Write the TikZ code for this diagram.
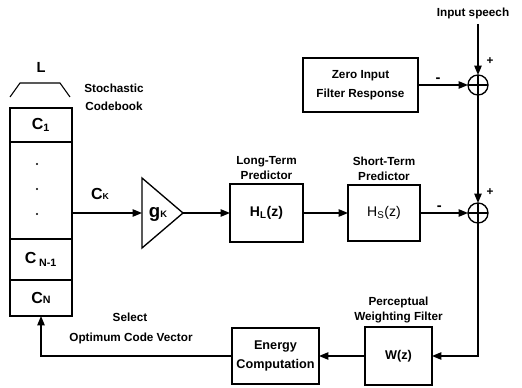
\documentclass[tikz,border=0pt]{standalone}
\usepackage{fontspec}
\setmainfont{Liberation Sans}
\usepackage{tikz}
\usetikzlibrary{arrows.meta,positioning}

\begin{document}
\begin{tikzpicture}[x=0.75pt,y=-0.75pt,line width=1pt,
  arr/.style={-{Triangle[length=7pt,width=5.5pt]}},
  blockbox/.style={draw,inner sep=0pt,outer sep=0pt,align=center},
  rowbox/.style={draw,inner sep=0pt,outer sep=0pt,minimum width=46.5pt,font=\fontsize{12}{12}\selectfont\bfseries},
  sumnode/.style={draw,circle,inner sep=0pt,outer sep=0pt,minimum size=15pt},
  lbl/.style={font=\fontsize{8.8}{11.5}\selectfont\bfseries,align=center,inner sep=1pt},
  sgn/.style={font=\fontsize{11}{11}\selectfont\bfseries,inner sep=1pt}]
  \useasboundingbox (0,0) rectangle (522,388);

  % codebook
  \node[rowbox,minimum height=25.5pt] (c1) at (41,125) {C\textsubscript{1}};
  \node[rowbox,minimum height=72.75pt] (dots) at (41,190.5) {};
  \node[rowbox,minimum height=30.75pt] (cn1) at (41,259.5) {C\,\textsubscript{N-1}};
  \node[rowbox,minimum height=27pt] (cn) at (41,298) {C{\fontsize{8}{8}\selectfont N}};
  \foreach \y in {164,189,214} \fill (37,\y) circle (0.9pt);
  \draw[line width=0.8pt] (10,97) -- (20,83) -- (60,83) -- (70,97);
  \node[lbl,font=\fontsize{11}{11}\selectfont\bfseries] (lsize) at (41,67) {L};
  \node[lbl,font=\fontsize{8.8}{13.5}\selectfont\bfseries] (cbname) at (114,97) {Stochastic\\Codebook};

  % gain and predictors
  \coordinate (gin) at (142,213);
  \coordinate (gout) at (183,213);
  \draw (142,178) -- (gout) -- (142,248) -- cycle;
  \node[font=\fontsize{14}{14}\selectfont\bfseries] (gk) at (158,214) {g{\fontsize{7}{7}\selectfont K}};
  \node[blockbox,minimum width=54.75pt,minimum height=43.5pt,font=\fontsize{10.5}{12}\selectfont\bfseries] (hl) at (266.5,213) {H\textsubscript{L}(z)};
  \node[blockbox,minimum width=54pt,minimum height=42pt,font=\fontsize{10.5}{12}\selectfont] (hs) at (384,213) {H\textsubscript{S}(z)};
  \node[lbl,above=1.5pt of hl] (ltp) {Long-Term\\Predictor};
  \node[lbl,above=1.5pt of hs] (stp) {Short-Term\\Predictor};

  % summing points
  \node[blockbox,minimum width=86.25pt,minimum height=40.5pt,font=\fontsize{8.8}{14}\selectfont\bfseries] (zir) at (360.5,85) {Zero Input\\Filter Response};
  \node[sumnode] (s1) at (478,85) {};
  \node[sumnode] (s2) at (478,213) {};
  \draw[line width=0.8pt] (s1.north) -- (s1.south) (s1.west) -- (s1.east);
  \draw[line width=0.8pt] (s2.north) -- (s2.south) (s2.west) -- (s2.east);
  \coordinate (sp) at (478,24);
  \node[lbl] (spname) at (473,13) {Input speech};

  % error weighting
  \node[blockbox,minimum width=50.25pt,minimum height=43.5pt,font=\fontsize{9.5}{11}\selectfont\bfseries] (wz) at (398.5,356) {W(z)};
  \node[blockbox,minimum width=65.25pt,minimum height=42pt,font=\fontsize{9.5}{14}\selectfont\bfseries] (en) at (275.5,356) {Energy\\Computation};
  \node[lbl,above=1.5pt of wz] (pwf) {Perceptual\\Weighting Filter};
  \node[lbl] (sel) at (130,317) {Select};
  \node[lbl] (ocv) at (131,338) {Optimum Code Vector};

  % connections
  \draw[arr] (dots.east |- gin) -- (gin) node[pos=0.4,above=6pt,font=\fontsize{12}{12}\selectfont\bfseries] (ck) {C{\fontsize{6.5}{6.5}\selectfont K}};
  \draw[arr] (gout) -- (hl.west);
  \draw[arr] (hl.east) -- (hs.west);
  \draw[arr] (hs.east) -- (s2.west) node[pos=0.4,above,sgn] (m2) {-};
  \draw[arr] (zir.east) -- (s1.west) node[pos=0.4,above,sgn] (m1) {-};
  \draw[arr] (sp) -- (s1.north);
  \draw[arr] (s1.south) -- (s2.north);
  \node[lbl] (p1) at (490,61) {+};
  \node[lbl] (p2) at (490,192) {+};
  \draw[arr] (s2.south) |- (wz.east);
  \draw[arr] (wz.west) -- (en.east);
  \draw[arr] (en.west) -| (cn.south);
\end{tikzpicture}
\end{document}
